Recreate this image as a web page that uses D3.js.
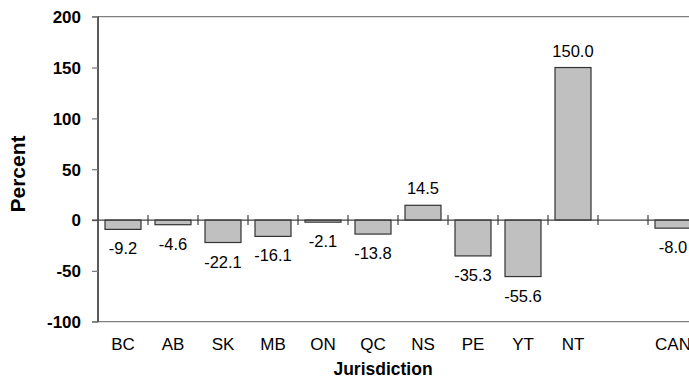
<!DOCTYPE html>
<html>
<head>
<meta charset="utf-8">
<script src="https://cdn.jsdelivr.net/npm/d3@7"></script>
<style>
html,body{margin:0;padding:0;background:#fff;}
svg{display:block;font-family:"Liberation Sans",Arial,sans-serif;}
</style>
</head>
<body>
<svg id="chart" width="689" height="379"></svg>
<script>
const categories = ["BC","AB","SK","MB","ON","QC","NS","PE","YT","NT","","CAN"];
const values = [-9.2,-4.6,-22.1,-16.1,-2.1,-13.8,14.5,-35.3,-55.6,150.0,null,-8.0];
const yTicks = [-100,-50,0,50,100,150,200];
const yTitle = "Percent";
const xTitle = "Jurisdiction";

const svg = d3.select("#chart");
const mLeft = 98, mRight = 698, mTop = 16.7, mBottom = 321.7;
const hy = s => s.replace(/\u2212/g,"-");

const keys = categories.map((c,i)=> c === "" ? "_blank"+i : c);
const x = d3.scaleBand().domain(keys).range([mLeft,mRight]).paddingInner(0.28).paddingOuter(0.14);
const y = d3.scaleLinear().domain([-100,200]).range([mBottom,mTop]);
const step = x.step();

// top and bottom frame lines
svg.append("line").attr("x1",92).attr("x2",689).attr("y1",y(200)).attr("y2",y(200)).attr("stroke","#7f7f7f").attr("stroke-width",1.3);
svg.append("line").attr("x1",92).attr("x2",689).attr("y1",y(-100)).attr("y2",y(-100)).attr("stroke","#7f7f7f").attr("stroke-width",1.3);

// y axis
const yAxis = d3.axisLeft(y).tickValues(yTicks).tickSize(6).tickPadding(11).tickFormat(d=>hy(d3.format("d")(d)));
const gy = svg.append("g").attr("transform",`translate(${mLeft},0)`).call(yAxis);
gy.select(".domain").attr("stroke","#000").attr("stroke-width",1.3).attr("d",`M0,${y(200)}V${y(-100)}`);
gy.selectAll(".tick line").attr("stroke","#7f7f7f").attr("stroke-width",1.3);
gy.selectAll(".tick text").attr("font-size",17).attr("font-weight","bold").attr("fill","#000")
  .attr("font-family","Liberation Sans, Arial, sans-serif").attr("dy","0.35em");

// bars
const data = keys.map((k,i)=>({k, cat:categories[i], v:values[i]})).filter(d=>d.v!==null);
svg.append("g").selectAll("rect").data(data).join("rect")
  .attr("x",d=>x(d.k)).attr("width",x.bandwidth())
  .attr("y",d=>y(Math.max(0,d.v))).attr("height",d=>Math.abs(y(d.v)-y(0)))
  .attr("fill","#c0c0c0").attr("stroke","#333").attr("stroke-width",1.2);

// zero line
svg.append("line").attr("x1",92).attr("x2",689).attr("y1",y(0)).attr("y2",y(0)).attr("stroke","#404040").attr("stroke-width",1.3);
// category boundary ticks
svg.append("g").selectAll("line").data(keys.slice(0,-1)).join("line")
  .attr("x1",d=>x(d)+x.bandwidth()/2+step/2).attr("x2",d=>x(d)+x.bandwidth()/2+step/2)
  .attr("y1",y(0)-5).attr("y2",y(0)+5).attr("stroke","#404040").attr("stroke-width",1.2);

// value labels
svg.append("g").selectAll("text").data(data).join("text")
  .attr("x",d=>x(d.k)+x.bandwidth()/2)
  .attr("y",d=> d.v>=0 ? y(d.v)-11 : y(d.v)+25)
  .attr("text-anchor","middle").attr("font-size",16.5).attr("fill","#000")
  .text(d=>hy(d3.format(".1f")(d.v)));

// x axis labels
const xAxis = d3.axisBottom(x).tickSize(0).tickPadding(0).tickFormat((d,i)=>categories[i]);
const gx = svg.append("g").attr("transform",`translate(0,${mBottom})`).call(xAxis);
gx.select(".domain").remove();
gx.selectAll(".tick text").attr("font-size",17).attr("fill","#000")
  .attr("font-family","Liberation Sans, Arial, sans-serif").attr("dy",null).attr("y",28.5);

// titles
svg.append("text").attr("x",(mLeft+mRight)/2 - 15).attr("y",375).attr("text-anchor","middle")
  .attr("font-size",17.5).attr("font-weight","bold").text(xTitle);
svg.append("text").attr("transform",`translate(25,174) rotate(-90)`).attr("text-anchor","middle")
  .attr("font-size",21).attr("font-weight","bold").text(yTitle);
</script>
</body>
</html>
